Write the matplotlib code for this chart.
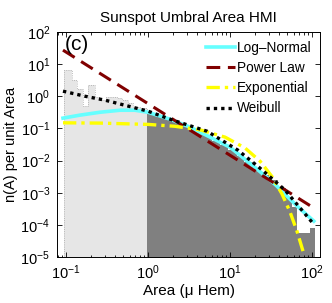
import numpy as np
import matplotlib
matplotlib.use("Agg")
import matplotlib.pyplot as plt

plt.rcParams['font.family'] = ['Liberation Sans', 'DejaVu Sans']
plt.rcParams['mathtext.fontset'] = 'custom'
plt.rcParams['mathtext.rm'] = 'Liberation Sans'

# ---- histogram, small areas (light grey) ----
light_edges = [0.0953, 0.1175, 0.1375, 0.160, 0.187, 0.226, 0.260, 0.308,
               0.361, 0.415, 0.478, 0.575, 0.662, 0.798, 0.964]
light_vals = [6.55, 3.2, 1.64, 0.50, 2.23, 0.96, 0.76, 0.96, 0.96, 0.87,
              0.76, 0.60, 0.47, 0.42]

# ---- histogram, fitted range (dark grey) ----
dark_edges = [0.964, 1.2, 1.5, 1.9, 2.4, 3.0, 3.8, 4.8, 6.0, 7.6, 9.5, 12,
              15, 19, 24, 30, 38, 48, 57, 65.6, 77.6, 94.2, 110]
dark_vals = [0.31, 0.26, 0.21, 0.17, 0.135, 0.105, 0.08, 0.058, 0.042, 0.03,
             0.021, 0.014, 0.0088, 0.0056, 0.0036, 0.0024, 0.0014, 0.00075,
             0.00035, 5.5e-5, 5.5e-5, 8e-5]

# ---- fitted distributions ----
lognorm_x = [0.092, 0.148, 0.26, 0.456, 0.69, 1.0, 1.85, 3.25, 5.7, 10,
             20.7, 36.4, 63.8, 105]
lognorm_y = [0.21, 0.26, 0.32, 0.37, 0.37, 0.32, 0.195, 0.11, 0.054, 0.026,
             5.8e-3, 1.7e-3, 4.1e-4, 1.3e-4]

power_x = [0.092, 102]
power_y = [27.5, 3.5e-4]

expo_x = [0.092, 0.26, 1.0, 2.13, 4.31, 8.69, 15.2, 23.2, 32.5, 43.0, 53.9,
          65.6, 77.6]
expo_y = [0.150, 0.147, 0.134, 0.117, 0.0906, 0.0538, 0.0248, 9.6e-3,
          3.16e-3, 9.1e-4, 2.5e-4, 6.2e-5, 1.5e-5]

weib_x = [0.092, 0.17, 0.30, 0.52, 1.0, 2.02, 5.25, 12.5, 23.2, 46.9, 100]
weib_y = [1.45, 1.01, 0.76, 0.53, 0.346, 0.18, 0.082, 0.021, 5.8e-3, 1.2e-3,
          1.2e-4]

fig = plt.figure(figsize=(3.32, 3.03), dpi=100)
ax = fig.add_axes([0.172, 0.152, 0.792, 0.742])

ax.stairs(light_vals, light_edges, baseline=1e-6, fill=True,
          facecolor='#e6e6e6', edgecolor='none')
ax.stairs(light_vals, light_edges, baseline=1e-6, fill=False,
          color='#a8a8a8', linewidth=0.6, linestyle=':')
ax.stairs(dark_vals, dark_edges, baseline=1e-6, fill=True,
          facecolor='#808080', edgecolor='none')

ax.plot(lognorm_x, lognorm_y, color='#66ffff', lw=2.6, label='Log\u2013Normal')
ax.plot(power_x, power_y, color='#800000', lw=2.2, dashes=(4.5, 2.5),
        label='Power Law')
ax.plot(expo_x, expo_y, color='#ffff00', lw=2.4, dashes=(4, 1.5, 1, 1.5),
        label='Exponential')
ax.plot(weib_x, weib_y, color='black', lw=2.4, dashes=(1, 1.2),
        label='Weibull')

ax.set_xscale('log')
ax.set_yscale('log')
ax.set_xlim(0.078, 125)
ax.set_ylim(1e-5, 1e2)
ax.set_xticks([0.1, 1, 10, 100])
ax.set_yticks([1e-5, 1e-4, 1e-3, 1e-2, 1e-1, 1, 10, 100])

ax.tick_params(which='both', direction='in', top=True, right=True,
               labelsize=10.5, width=0.6)
ax.tick_params(which='major', length=3.5, pad=5)
ax.tick_params(which='minor', length=1.8)
for s in ax.spines.values():
    s.set_linewidth(0.7)

ax.set_title('Sunspot Umbral Area HMI', fontsize=11, pad=7)
ax.set_xlabel('Area (\u03bc Hem)', fontsize=11, labelpad=1)
ax.set_ylabel('n(A) per unit Area', fontsize=10.5, labelpad=2)

ax.text(0.03, 0.985, '(c)', transform=ax.transAxes, fontsize=15,
        ha='left', va='top')

ax.legend(loc='upper right', frameon=False, fontsize=9.8, handlelength=2.1,
          handletextpad=0.15, labelspacing=0.45, borderaxespad=0.3,
          borderpad=0.35)

fig.savefig('out.png', dpi=100)
